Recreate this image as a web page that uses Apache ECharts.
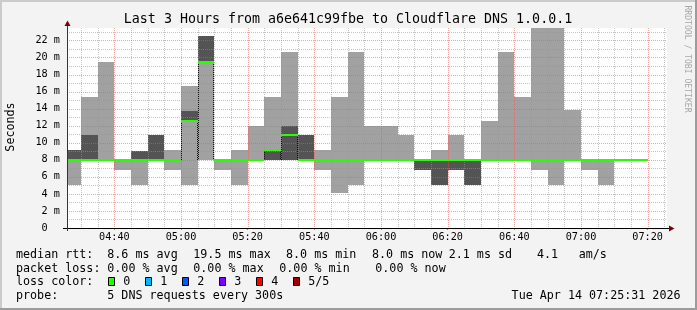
<!DOCTYPE html>
<html><head><meta charset="utf-8">
<script src="https://cdn.jsdelivr.net/npm/echarts@6/dist/echarts.min.js"></script>
<style>html,body{margin:0;padding:0;background:#f3f3f3;}#c{width:697px;height:310px;}</style>
</head><body><div id="c"></div>
<script>
// ---- data ----
const intervalEnds = ['04:30','04:35','04:40','04:45','04:50','04:55','05:00','05:05','05:10','05:15','05:20','05:25','05:30','05:35','05:40','05:45','05:50','05:55','06:00','06:05','06:10','06:15','06:20','06:25','06:30','06:35','06:40','06:45','06:50','06:55','07:00','07:05','07:10','07:15','07:20'];
const rttMin    = [5.1, 8.0, 8.0, 6.8, 5.1, 8.0, 6.8, 5.1, 8.0, 6.8, 5.1, 8.0, 8.0, 8.0, 8.0, 6.8, 4.1, 5.1, 8.0, 8.0, 8.0, 6.8, 5.1, 6.8, 5.1, 8.0, 8.0, 8.0, 6.8, 5.1, 8.0, 6.8, 5.1, 8.0, 8.0];
const rttLow    = [8.0, 8.0, 8.0, 8.0, 8.0, 8.0, 8.0,12.6,19.5, 8.0, 8.0, 8.0, 8.0, 8.0, 8.0, 8.0, 8.0, 8.0, 8.0, 8.0, 8.0, 6.8, 5.1, 6.8, 5.1, 8.0, 8.0, 8.0, 8.0, 8.0, 8.0, 8.0, 8.0, 8.0, 8.0];
const rttMedian = [8.0, 8.0, 8.0, 8.0, 8.0, 8.0, 8.0,12.6,19.5, 8.0, 8.0, 8.0, 9.2,10.9, 8.0, 8.0, 8.0, 8.0, 8.0, 8.0, 8.0, 8.0, 8.0, 8.0, 8.0, 8.0, 8.0, 8.0, 8.0, 8.0, 8.0, 8.0, 8.0, 8.0, 8.0];
const rttHigh   = [9.2,10.9, 8.0, 8.0, 9.0,10.9, 8.0,13.7,22.5, 8.0, 8.0, 8.0, 9.2,12.0,10.9, 8.0, 8.0, 8.0, 8.0, 8.0, 8.0, 8.0, 8.0, 8.0, 8.0, 8.0, 8.0, 8.0, 8.0, 8.0, 8.0, 8.0, 8.0, 8.0, 8.0];
const rttMax    = [9.2,15.4,19.5, 8.0, 9.0,10.9, 9.2,16.6,22.5, 8.0, 9.2,12.0,15.4,20.7,10.9, 9.2,15.4,20.7,12.0,12.0,10.9, 8.0, 9.2,10.9, 8.0,12.6,20.7,15.4,23.5,23.5,13.8, 8.0, 8.0, 8.0, 8.0];
const timeLabels = ['04:40','05:00','05:20','05:40','06:00','06:20','06:40','07:00','07:20'];
const lossLabels = ['0','1','2','3','4','5/5'];
const lossColors = ['#26ff00','#00b8ff','#0059ff','#7e00ff','#ff0000','#a00000'];
const medianStats = ['8.6 ms avg','19.5 ms max','8.0 ms min','8.0 ms now','2.1 ms sd','4.1','am/s'];
const lossStats = ['0.00 % avg','0.00 % max','0.00 % min','0.00 % now'];
const titleText = 'Last 3 Hours from a6e641c99fbe to Cloudflare DNS 1.0.0.1';
const probeText = '5 DNS requests every 300s';
const dateText = 'Tue Apr 14 07:25:31 2026';

// ---- helpers ----
const toMin = s => { const p = s.split(':'); return (+p[0]) * 60 + (+p[1]); };
const fmt = m => { const h = Math.floor(m / 60), mm = Math.round(m % 60); return String(h).padStart(2,'0') + ':' + String(mm).padStart(2,'0'); };
const X_START = toMin('04:25') + 48 / 60;
const X_END = X_START + 180;
const Y_MAX = 23.46;
const STEP = 5;
const MONO = '"DejaVu Sans Mono", monospace';
const LIGHT = '#a1a1a1', DARK = '#545454', GREEN = lossColors[0];
const GRID_GREY = 'rgba(150,150,150,0.55)', GRID_RED = 'rgba(230,90,90,0.55)';

const smokeData = intervalEnds.map((t, i) => [toMin(t), rttMin[i], rttLow[i], rttMedian[i], rttHigh[i], rttMax[i]]);
const baseMedian = Math.min.apply(null, rttMedian);

const vGrid = [];
for (let m = toMin('04:30'); m < X_END; m += STEP) vGrid.push([m, m % 20 === 0 ? 1 : 0]);
const hGrid = [];
for (let v = 1; v < Y_MAX; v += 1) hGrid.push([X_START, v, v % 2 === 0 ? 1 : 0]);

const crisp = v => Math.round(v) + 0.5;

const option = {
  animation: false,
  backgroundColor: '#f3f3f3',
  grid: { left: 67, top: 28, width: 600, height: 200, show: true, backgroundColor: '#ffffff', borderWidth: 0, containLabel: false, outerBoundsMode: 'none' },
  xAxis: {
    type: 'value', min: X_START, max: X_END,
    axisLine: { show: true, lineStyle: { color: '#000', width: 1 } },
    axisTick: { show: true, customValues: timeLabels.map(toMin), length: 2, lineStyle: { color: '#e07070' } },
    axisLabel: { show: true, customValues: timeLabels.map(toMin), formatter: v => fmt(v), fontFamily: MONO, fontSize: 10.2, color: '#000', margin: 4 },
    splitLine: { show: false }
  },
  yAxis: {
    type: 'value', min: 0, max: Y_MAX, interval: 2,
    axisLine: { show: true, lineStyle: { color: '#333', width: 1 } },
    axisTick: { show: false },
    axisLabel: { formatter: v => (v === 0 ? '0  ' : (Math.abs(v % 2) < 1e-9 ? v + ' m' : '')), fontFamily: MONO, fontSize: 10.2, color: '#000', margin: 7, showMaxLabel: false },
    splitLine: { show: false }
  },
  series: [
    {
      type: 'custom', name: 'smoke', z: 2, clip: true, data: smokeData,
      encode: { x: 0, y: [1, 5] },
      renderItem: (params, api) => {
        const t1 = api.value(0), t0 = t1 - STEP;
        const a = api.coord([t0, api.value(1)]), b = api.coord([t1, api.value(5)]);
        const c = api.coord([t0, api.value(2)]), d = api.coord([t1, api.value(4)]);
        const x0 = Math.round(a[0]), x1 = Math.round(b[0]);
        const kids = [];
        const ly0 = Math.round(b[1]), ly1 = Math.round(a[1]);
        if (ly1 > ly0) kids.push({ type: 'rect', shape: { x: x0, y: ly0, width: x1 - x0, height: ly1 - ly0 }, style: { fill: LIGHT } });
        const dy0 = Math.round(d[1]), dy1 = Math.round(c[1]);
        if (dy1 > dy0) kids.push({ type: 'rect', shape: { x: x0, y: dy0, width: x1 - x0, height: dy1 - dy0 }, style: { fill: DARK } });
        return { type: 'group', children: kids };
      }
    },
    {
      type: 'custom', name: 'vgrid', z: 3, clip: true, data: vGrid, encode: { x: 0, y: 1 },
      renderItem: (params, api) => {
        const t = api.value(0);
        const top = api.coord([t, Y_MAX]), bot = api.coord([t, 0]);
        const x = crisp(top[0]);
        return { type: 'line', shape: { x1: x, y1: top[1], x2: x, y2: bot[1] }, style: { stroke: api.value(1) === 1 ? GRID_RED : GRID_GREY, lineWidth: 1, lineDash: [1, 1] } };
      }
    },
    {
      type: 'custom', name: 'hgrid', z: 3, clip: true, data: hGrid, encode: { x: 0, y: 1 },
      renderItem: (params, api) => {
        const v = api.value(1);
        const l = api.coord([X_START, v]), r = api.coord([X_END, v]);
        const y = crisp(l[1]);
        return { type: 'line', shape: { x1: l[0], y1: y, x2: r[0], y2: y }, style: { stroke: api.value(2) === 1 ? GRID_RED : GRID_GREY, lineWidth: 1, lineDash: [1, 1] } };
      }
    },
    {
      type: 'custom', name: 'median', z: 4, clip: true, data: smokeData, encode: { x: 0, y: 3 },
      renderItem: (params, api) => {
        const t1 = api.value(0), t0 = t1 - STEP, med = api.value(3);
        const a = api.coord([t0, med]), b = api.coord([t1, med]);
        const base = api.coord([t0, baseMedian]);
        const x0 = Math.round(a[0]), x1 = Math.round(b[0]);
        const y = Math.round(a[1]);
        const kids = [];
        if (med > baseMedian + 1e-9) {
          const yb = Math.round(base[1]);
          kids.push({ type: 'line', shape: { x1: x0 + 0.5, y1: y, x2: x0 + 0.5, y2: yb }, style: { stroke: '#111', lineWidth: 1, lineDash: [1, 1] } });
          kids.push({ type: 'line', shape: { x1: x1 - 0.5, y1: y, x2: x1 - 0.5, y2: yb }, style: { stroke: '#111', lineWidth: 1, lineDash: [1, 1] } });
        }
        kids.push({ type: 'line', shape: { x1: x0, y1: y, x2: x1, y2: y }, style: { stroke: GREEN, lineWidth: 2 } });
        return { type: 'group', children: kids };
      }
    }
  ],
  graphic: []
};

// ---- decorations & legend ----
const g = option.graphic;
const txt = (x, y, s, size, extra) => Object.assign({ type: 'text', x: x, y: y, z: 100, style: { text: s, font: size + 'px ' + MONO, fill: '#000', align: 'left', verticalAlign: 'middle', textAlign: 'left', textVerticalAlign: 'middle' } }, extra || {});
// frame
g.push({ type: 'rect', z: 100, shape: { x: 0, y: 0, width: 697, height: 2 }, style: { fill: '#cbcbcb' } });
g.push({ type: 'rect', z: 100, shape: { x: 0, y: 0, width: 2, height: 310 }, style: { fill: '#cbcbcb' } });
g.push({ type: 'rect', z: 100, shape: { x: 0, y: 308, width: 697, height: 2 }, style: { fill: '#9c9c9c' } });
g.push({ type: 'rect', z: 100, shape: { x: 695, y: 0, width: 2, height: 310 }, style: { fill: '#9c9c9c' } });
// axis extensions and arrows
g.push({ type: 'line', z: 100, shape: { x1: 63, y1: 228.5, x2: 669, y2: 228.5 }, style: { stroke: '#000', lineWidth: 1 } });
g.push({ type: 'line', z: 100, shape: { x1: 67.5, y1: 231, x2: 67.5, y2: 25 }, style: { stroke: '#333', lineWidth: 1 } });
g.push({ type: 'polygon', z: 100, shape: { points: [[669, 225.5], [674.5, 228.5], [669, 231.5]] }, style: { fill: '#7f0000' } });
g.push({ type: 'polygon', z: 100, shape: { points: [[64.5, 26], [67.5, 20.5], [70.5, 26]] }, style: { fill: '#7f0000' } });
// title, axis title, watermark
g.push(txt(348, 19.5, titleText, 13.3, {}));
g[g.length - 1].style.align = 'center'; g[g.length - 1].style.textAlign = 'center';
g.push({ type: 'text', x: 10.5, y: 127, rotation: Math.PI / 2, z: 100, style: { text: 'Seconds', font: '11.7px ' + MONO, fill: '#000', align: 'center', verticalAlign: 'middle', textAlign: 'center', textVerticalAlign: 'middle' } });
g.push({ type: 'text', x: 687.5, y: 59, rotation: -Math.PI / 2, z: 100, style: { text: 'RRDTOOL / TOBI OETIKER', font: '8.1px ' + MONO, fill: '#a8a8a8', align: 'center', verticalAlign: 'middle', textAlign: 'center', textVerticalAlign: 'middle' } });
// legend rows
const LF = 11.7;
g.push(txt(16, 254.5, 'median rtt:', LF));
[107.3, 193.3, 286, 372, 448.7, 537, 578.7].forEach((x, i) => g.push(txt(x, 254.5, medianStats[i], LF)));
g.push(txt(16, 268.5, 'packet loss:', LF));
[107.3, 193.3, 279.3, 375.3].forEach((x, i) => g.push(txt(x, 268.5, lossStats[i], LF)));
g.push(txt(16, 282.3, 'loss color:', LF));
lossLabels.forEach((lab, i) => {
  const bx = 108.5 + i * 37;
  g.push({ type: 'rect', z: 100, shape: { x: bx, y: 277.5, width: 6, height: 8 }, style: { fill: lossColors[i], stroke: '#000', lineWidth: 1 } });
  g.push(txt(bx + 14.8, 282.3, lab, LF));
});
g.push(txt(16, 296.3, 'probe:', LF));
g.push(txt(107.3, 296.3, probeText, LF));
const dt = txt(680.5, 296.3, dateText, LF); dt.style.align = 'right'; dt.style.textAlign = 'right'; g.push(dt);

const chart = echarts.init(document.getElementById('c'), null, { renderer: 'canvas', width: 697, height: 310 });
chart.setOption(option);
</script>
</body></html>
